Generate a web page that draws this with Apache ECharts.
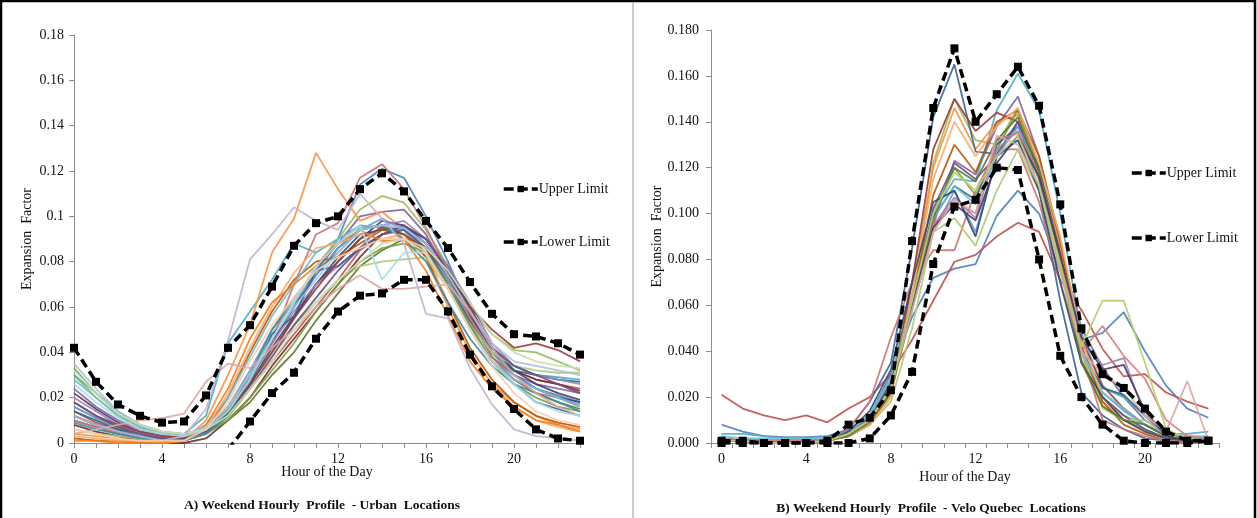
<!DOCTYPE html>
<html>
<head>
<meta charset="utf-8">
<script src="https://cdn.jsdelivr.net/npm/echarts@6/dist/echarts.min.js"></script>
<style>
  html, body { margin: 0; padding: 0; background: #fff; }
  #chart { width: 1257px; height: 518px; }
</style>
</head>
<body>
<div id="chart"></div>
<script>
// Hours of the day (x categories)
const hours = Array.from({ length: 24 }, (_, i) => String(i));

// Panel A: weekend hourly expansion factors, urban counting sites
const urbanUpper = [0.042,0.027,0.017,0.012,0.009,0.0095,0.021,0.042,0.052,0.069,0.087,0.097,0.100,0.112,0.119,0.111,0.098,0.086,0.071,0.057,0.048,0.047,0.044,0.039];
const urbanLower = [null,null,null,null,null,null,null,-0.003,0.0095,0.022,0.031,0.046,0.058,0.065,0.066,0.072,0.072,0.058,0.039,0.025,0.015,0.006,0.002,0.001];
const urbanSites = [
  [0.016,0.011,0.007,0.004,0.002,0.002,0.006,0.016,0.030,0.045,0.060,0.076,0.090,0.114,0.121,0.117,0.100,0.080,0.058,0.040,0.030,0.024,0.021,0.018],
  [0.014,0.009,0.006,0.003,0.002,0.002,0.005,0.012,0.024,0.036,0.048,0.060,0.072,0.085,0.092,0.094,0.088,0.074,0.056,0.040,0.032,0.028,0.026,0.024],
  [0.030,0.020,0.012,0.007,0.004,0.003,0.006,0.015,0.030,0.048,0.062,0.078,0.090,0.103,0.109,0.106,0.094,0.078,0.060,0.048,0.041,0.040,0.036,0.032],
  [0.024,0.016,0.010,0.006,0.004,0.003,0.006,0.014,0.028,0.045,0.060,0.076,0.088,0.100,0.102,0.103,0.092,0.075,0.055,0.038,0.030,0.026,0.024,0.022],
  [0.030,0.022,0.014,0.008,0.005,0.004,0.012,0.044,0.058,0.072,0.088,0.084,0.090,0.096,0.095,0.094,0.088,0.072,0.054,0.040,0.034,0.030,0.029,0.028],
  [0.004,0.003,0.002,0.001,0.001,0.001,0.010,0.030,0.052,0.084,0.099,0.128,0.112,0.098,0.102,0.094,0.082,0.060,0.040,0.026,0.018,0.012,0.008,0.006],
  [0.012,0.008,0.005,0.003,0.002,0.002,0.005,0.012,0.025,0.040,0.055,0.070,0.082,0.092,0.094,0.095,0.090,0.078,0.060,0.042,0.030,0.024,0.020,0.018],
  [0.008,0.005,0.003,0.001,0.000,0.000,0.002,0.010,0.020,0.034,0.046,0.058,0.070,0.082,0.092,0.096,0.090,0.076,0.058,0.042,0.032,0.028,0.026,0.023],
  [0.010,0.007,0.004,0.002,0.001,0.001,0.004,0.010,0.018,0.030,0.040,0.054,0.066,0.078,0.085,0.090,0.086,0.072,0.054,0.038,0.028,0.022,0.018,0.015],
  [0.022,0.015,0.009,0.005,0.003,0.002,0.005,0.012,0.026,0.042,0.056,0.070,0.080,0.090,0.098,0.096,0.088,0.074,0.056,0.042,0.032,0.026,0.022,0.019],
  [0.014,0.010,0.006,0.004,0.002,0.002,0.005,0.013,0.028,0.044,0.060,0.074,0.086,0.094,0.096,0.092,0.084,0.070,0.054,0.040,0.032,0.030,0.028,0.027],
  [0.002,0.001,0.001,0.000,0.000,0.001,0.006,0.020,0.040,0.058,0.072,0.080,0.082,0.088,0.094,0.092,0.082,0.062,0.042,0.028,0.018,0.012,0.009,0.007],
  [0.016,0.011,0.007,0.004,0.002,0.002,0.006,0.016,0.032,0.050,0.062,0.074,0.086,0.094,0.099,0.094,0.086,0.072,0.055,0.040,0.030,0.024,0.020,0.017],
  [0.010,0.007,0.004,0.002,0.001,0.001,0.005,0.014,0.028,0.045,0.070,0.092,0.097,0.117,0.123,0.112,0.095,0.076,0.055,0.038,0.028,0.022,0.020,0.016],
  [0.006,0.004,0.003,0.002,0.001,0.001,0.004,0.011,0.024,0.040,0.052,0.062,0.072,0.078,0.080,0.081,0.082,0.068,0.052,0.040,0.034,0.032,0.031,0.031],
  [0.020,0.014,0.008,0.005,0.003,0.003,0.006,0.014,0.028,0.044,0.058,0.070,0.078,0.086,0.096,0.098,0.090,0.078,0.062,0.044,0.034,0.030,0.028,0.026],
  [0.028,0.020,0.012,0.007,0.004,0.003,0.008,0.020,0.038,0.056,0.070,0.084,0.090,0.095,0.096,0.094,0.086,0.070,0.050,0.036,0.028,0.024,0.020,0.016],
  [0.003,0.002,0.001,0.001,0.000,0.001,0.006,0.022,0.042,0.060,0.075,0.086,0.088,0.092,0.090,0.092,0.086,0.060,0.040,0.026,0.016,0.010,0.007,0.005],
  [0.012,0.008,0.005,0.003,0.002,0.002,0.005,0.012,0.026,0.048,0.056,0.076,0.078,0.086,0.092,0.094,0.086,0.070,0.052,0.036,0.026,0.018,0.015,0.012],
  [0.018,0.012,0.008,0.005,0.003,0.003,0.006,0.014,0.026,0.040,0.055,0.068,0.080,0.090,0.095,0.092,0.086,0.074,0.060,0.050,0.042,0.044,0.041,0.036],
  [0.033,0.022,0.013,0.008,0.005,0.003,0.005,0.010,0.020,0.032,0.044,0.058,0.070,0.080,0.086,0.088,0.084,0.070,0.052,0.036,0.026,0.020,0.016,0.014],
  [0.018,0.012,0.007,0.004,0.002,0.002,0.005,0.012,0.024,0.038,0.052,0.064,0.076,0.086,0.092,0.096,0.090,0.076,0.058,0.042,0.034,0.030,0.026,0.022],
  [0.009,0.006,0.004,0.002,0.001,0.001,0.004,0.012,0.030,0.050,0.064,0.076,0.084,0.094,0.096,0.090,0.080,0.062,0.046,0.034,0.026,0.022,0.018,0.014],
  [0.001,0.001,0.000,0.000,0.000,0.001,0.008,0.024,0.046,0.062,0.070,0.078,0.088,0.094,0.089,0.090,0.076,0.056,0.036,0.024,0.016,0.010,0.008,0.005],
  [0.035,0.024,0.014,0.008,0.005,0.004,0.007,0.016,0.030,0.046,0.060,0.072,0.084,0.094,0.096,0.095,0.088,0.074,0.058,0.044,0.036,0.034,0.032,0.030],
  [0.004,0.006,0.008,0.010,0.011,0.013,0.027,0.035,0.033,0.042,0.050,0.060,0.068,0.074,0.068,0.068,0.069,0.070,0.058,0.042,0.030,0.022,0.016,0.012],
  [0.032,0.022,0.013,0.008,0.005,0.004,0.006,0.012,0.024,0.036,0.050,0.062,0.072,0.080,0.088,0.090,0.086,0.076,0.062,0.048,0.040,0.036,0.034,0.033],
  [0.012,0.008,0.005,0.003,0.001,0.003,0.015,0.045,0.081,0.092,0.104,0.098,0.094,0.110,0.099,0.088,0.057,0.055,0.033,0.017,0.006,0.003,0.002,0.001],
  [0.026,0.018,0.011,0.006,0.004,0.003,0.006,0.014,0.028,0.046,0.062,0.078,0.088,0.096,0.072,0.084,0.084,0.068,0.050,0.036,0.026,0.018,0.014,0.012],
  [0.006,0.004,0.002,0.001,0.001,0.001,0.006,0.018,0.036,0.052,0.064,0.076,0.082,0.086,0.090,0.090,0.084,0.068,0.050,0.034,0.022,0.014,0.010,0.008]
];

// Panel B: weekend hourly expansion factors, Velo Quebec counting sites
const veloUpper = [0.001,0.001,0.000,0.000,0.000,0.001,0.008,0.011,0.023,0.088,0.146,0.172,0.140,0.152,0.164,0.147,0.104,0.050,0.030,0.024,0.015,0.005,0.001,0.001];
const veloLower = [0.000,0.000,0.000,0.000,0.000,0.000,0.000,0.002,0.012,0.031,0.078,0.103,0.106,0.120,0.119,0.080,0.038,0.020,0.008,0.001,0.000,0.000,0.000,0.001];
const veloSites = [
  [0.008,0.005,0.003,0.0025,0.0025,0.003,0.006,0.012,0.030,0.055,0.072,0.076,0.078,0.099,0.110,0.100,0.075,0.045,0.048,0.057,0.040,0.025,0.015,0.011],
  [0.021,0.015,0.012,0.010,0.012,0.009,0.015,0.020,0.030,0.045,0.062,0.079,0.082,0.090,0.096,0.092,0.071,0.058,0.041,0.029,0.030,0.022,0.018,0.015],
  [0.001,0.001,0.000,0.000,0.000,0.001,0.004,0.010,0.022,0.060,0.122,0.150,0.132,0.130,0.146,0.118,0.080,0.040,0.020,0.012,0.008,0.003,0.001,0.001],
  [0.002,0.001,0.001,0.001,0.001,0.001,0.004,0.010,0.028,0.060,0.095,0.123,0.117,0.138,0.151,0.125,0.085,0.050,0.033,0.020,0.010,0.004,0.002,0.001],
  [0.004,0.004,0.003,0.002,0.002,0.002,0.005,0.012,0.028,0.065,0.100,0.115,0.114,0.145,0.161,0.145,0.100,0.048,0.024,0.020,0.012,0.004,0.004,0.005],
  [0.001,0.001,0.000,0.000,0.000,0.001,0.003,0.008,0.020,0.070,0.120,0.146,0.128,0.140,0.143,0.120,0.086,0.040,0.018,0.010,0.005,0.002,0.001,0.001],
  [0.001,0.001,0.001,0.000,0.000,0.001,0.006,0.018,0.035,0.085,0.142,0.165,0.127,0.126,0.140,0.110,0.062,0.022,0.012,0.006,0.002,0.001,0.000,0.000],
  [0.002,0.001,0.001,0.001,0.001,0.001,0.004,0.010,0.024,0.070,0.128,0.150,0.136,0.144,0.140,0.115,0.080,0.045,0.025,0.015,0.008,0.003,0.001,0.001],
  [0.001,0.001,0.000,0.000,0.000,0.001,0.003,0.008,0.022,0.058,0.100,0.120,0.108,0.128,0.145,0.120,0.078,0.035,0.016,0.010,0.006,0.002,0.001,0.001],
  [0.001,0.001,0.000,0.000,0.000,0.001,0.004,0.010,0.025,0.062,0.102,0.122,0.115,0.125,0.140,0.118,0.082,0.042,0.020,0.012,0.006,0.002,0.001,0.001],
  [0.002,0.001,0.001,0.001,0.001,0.001,0.004,0.011,0.026,0.060,0.098,0.112,0.106,0.130,0.138,0.120,0.082,0.040,0.024,0.021,0.012,0.004,0.002,0.002],
  [0.001,0.001,0.000,0.000,0.000,0.001,0.003,0.008,0.022,0.062,0.108,0.130,0.118,0.140,0.145,0.125,0.088,0.042,0.018,0.008,0.004,0.001,0.000,0.000],
  [0.002,0.001,0.001,0.001,0.001,0.001,0.004,0.010,0.026,0.058,0.092,0.110,0.092,0.125,0.138,0.118,0.080,0.040,0.022,0.014,0.008,0.003,0.001,0.001],
  [0.001,0.001,0.000,0.000,0.000,0.001,0.006,0.018,0.046,0.070,0.084,0.084,0.110,0.128,0.128,0.105,0.070,0.040,0.010,0.006,0.003,0.001,0.000,0.000],
  [0.001,0.001,0.000,0.000,0.000,0.001,0.003,0.008,0.018,0.050,0.092,0.098,0.086,0.110,0.128,0.110,0.075,0.040,0.015,0.010,0.010,0.004,0.001,0.001],
  [0.001,0.001,0.000,0.000,0.000,0.001,0.004,0.010,0.025,0.060,0.095,0.107,0.098,0.128,0.136,0.115,0.080,0.045,0.034,0.037,0.012,0.003,0.001,0.001],
  [0.003,0.002,0.002,0.002,0.002,0.002,0.005,0.012,0.028,0.062,0.098,0.112,0.104,0.125,0.132,0.112,0.078,0.040,0.022,0.015,0.008,0.004,0.003,0.003],
  [0.001,0.001,0.000,0.000,0.000,0.001,0.003,0.008,0.020,0.065,0.115,0.140,0.125,0.138,0.146,0.122,0.090,0.045,0.020,0.010,0.005,0.002,0.001,0.001],
  [0.001,0.001,0.000,0.000,0.000,0.001,0.005,0.014,0.032,0.070,0.105,0.110,0.090,0.125,0.132,0.110,0.070,0.035,0.020,0.010,0.005,0.002,0.001,0.001],
  [0.002,0.001,0.001,0.001,0.001,0.001,0.004,0.010,0.026,0.060,0.095,0.105,0.100,0.132,0.135,0.118,0.080,0.040,0.051,0.038,0.028,0.010,0.003,0.002],
  [0.001,0.001,0.000,0.000,0.000,0.001,0.003,0.009,0.022,0.060,0.098,0.120,0.114,0.132,0.142,0.118,0.080,0.036,0.016,0.010,0.008,0.003,0.001,0.001],
  [0.001,0.001,0.000,0.000,0.000,0.001,0.004,0.010,0.026,0.060,0.094,0.104,0.097,0.122,0.134,0.116,0.082,0.046,0.032,0.034,0.014,0.003,0.001,0.001],
  [0.001,0.001,0.000,0.000,0.000,0.001,0.004,0.010,0.024,0.058,0.092,0.106,0.100,0.134,0.130,0.112,0.075,0.040,0.030,0.024,0.012,0.005,0.027,0.001],
  [0.001,0.001,0.000,0.000,0.000,0.001,0.004,0.010,0.024,0.062,0.100,0.118,0.110,0.125,0.134,0.112,0.078,0.042,0.062,0.062,0.035,0.006,0.002,0.001]
];

// Office-style series palette
const palette = ['#4F81BD','#C0504D','#9BBB59','#8064A2','#4BACC6','#F79646','#2C4D75','#772C2A','#5F7530','#4D3B62',
                 '#276A7C','#B65708','#729ACA','#CD7371','#AFC97A','#9983B5','#6FBDD1','#F9AB6B','#3A6699','#9C3B38',
                 '#7D9C40','#664F83','#358EA6','#F47E1B','#A7C0DE','#DBA5A4','#CDDDB0','#C0B4D3','#A9DAE6','#FBCCAA'];
const veloColors = ['#4F81BD','#C0504D','#9BBB59','#8064A2','#4BACC6','#F79646','#3A6699','#9C3B38','#7D9C40','#664F83',
                    '#276A7C','#B65708','#729ACA','#CD7371','#AFC97A','#9983B5','#6FBDD1','#F9AB6B','#2C4D75','#DB7B78',
                    '#5F7530','#4D3B62','#DBA5A4','#B5D16E'];

const serif = 'Liberation Serif';
const axisGray = '#8c8c8c';

function siteSeries(rows, colors, axisIdx) {
  return rows.map((row, i) => ({
    type: 'line', xAxisIndex: axisIdx, yAxisIndex: axisIdx,
    data: row, symbol: 'none', silent: true,
    lineStyle: { color: colors[i % colors.length], width: 1.8, opacity: 0.9 },
    z: 2
  }));
}
function limitSeries(name, data, axisIdx) {
  return {
    type: 'line', name, xAxisIndex: axisIdx, yAxisIndex: axisIdx, data,
    symbol: 'rect', symbolSize: 8, clip: true,
    itemStyle: { color: '#000' },
    lineStyle: { color: '#000', width: 3.5, type: [9, 5] },
    z: 5
  };
}
function xAxis(gridIndex, boundaryGap, nameGap) {
  return {
    type: 'category', gridIndex, data: hours, boundaryGap,
    name: 'Hour of the Day', nameLocation: 'middle', nameGap, nameMoveOverlap: false,
    nameTextStyle: { fontFamily: serif, fontSize: 14, color: '#111' },
    axisLine: { lineStyle: { color: axisGray, width: 1 } },
    axisTick: { show: true, interval: 0, length: 5, lineStyle: { color: axisGray } },
    axisLabel: { interval: 3, fontFamily: serif, fontSize: 14, color: '#111', margin: 9 },
    splitLine: { show: false }
  };
}
function yAxis(gridIndex, fmt, nameGap, margin) {
  return {
    type: 'value', gridIndex, min: 0, max: 0.18, interval: 0.02,
    name: 'Expansion  Factor', nameLocation: 'middle', nameGap, nameMoveOverlap: false,
    nameTextStyle: { fontFamily: serif, fontSize: 14, color: '#111' },
    axisLine: { show: true, lineStyle: { color: axisGray, width: 1 } },
    axisTick: { show: true, length: 5, lineStyle: { color: axisGray } },
    axisLabel: { formatter: fmt, fontFamily: serif, fontSize: 14, color: '#111', margin },
    splitLine: { show: false }
  };
}
function legend(left, top, gap) {
  return {
    data: ['Upper Limit', 'Lower Limit'], orient: 'vertical', left, top,
    itemWidth: 34, itemHeight: 8, itemGap: gap, selectedMode: false,
    lineStyle: { width: 3.5, type: [10, 4] },
    textStyle: { fontFamily: serif, fontSize: 14, color: '#111', padding: [0, 0, 0, -4] }
  };
}

const chart = echarts.init(document.getElementById('chart'), null, { renderer: 'canvas' });
chart.setOption({
  backgroundColor: '#fff',
  animation: false,
  grid: [
    { left: 74, top: 35, width: 506, height: 408 },
    { left: 711, top: 30, width: 508, height: 413 }
  ],
  xAxis: [ xAxis(0, false, 22), xAxis(1, true, 27) ],
  yAxis: [
    yAxis(0, v => String(+v.toFixed(2)), 40, 10),
    yAxis(1, v => v.toFixed(3), 47, 12)
  ],
  legend: [ legend(497, 177, 39), legend(1125, 161, 51) ],
  series: [
    ...siteSeries(urbanSites, palette, 0),
    limitSeries('Upper Limit', urbanUpper, 0),
    limitSeries('Lower Limit', urbanLower, 0),
    ...siteSeries(veloSites, veloColors, 1),
    limitSeries('Upper Limit', veloUpper, 1),
    limitSeries('Lower Limit', veloLower, 1)
  ],
  graphic: [
    // frame and panel divider
    { type: 'rect', shape: { x: 1, y: 1, width: 1254, height: 530 }, style: { fill: null, stroke: '#000', lineWidth: 2.5 }, silent: true },
    { type: 'line', shape: { x1: 633, y1: 2, x2: 633, y2: 518 }, style: { stroke: '#9a9a9a', lineWidth: 1 }, silent: true },
    { type: 'text', x: 322, y: 506, style: { text: 'A) Weekend Hourly  Profile  - Urban  Locations', fontFamily: serif, fontWeight: 'bold', fontSize: 13.5, fill: '#111', align: 'center', verticalAlign: 'middle' } },
    { type: 'text', x: 931, y: 509, style: { text: 'B) Weekend Hourly  Profile  - Velo Quebec  Locations', fontFamily: serif, fontWeight: 'bold', fontSize: 13.5, fill: '#111', align: 'center', verticalAlign: 'middle' } }
  ]
});
</script>
</body>
</html>
